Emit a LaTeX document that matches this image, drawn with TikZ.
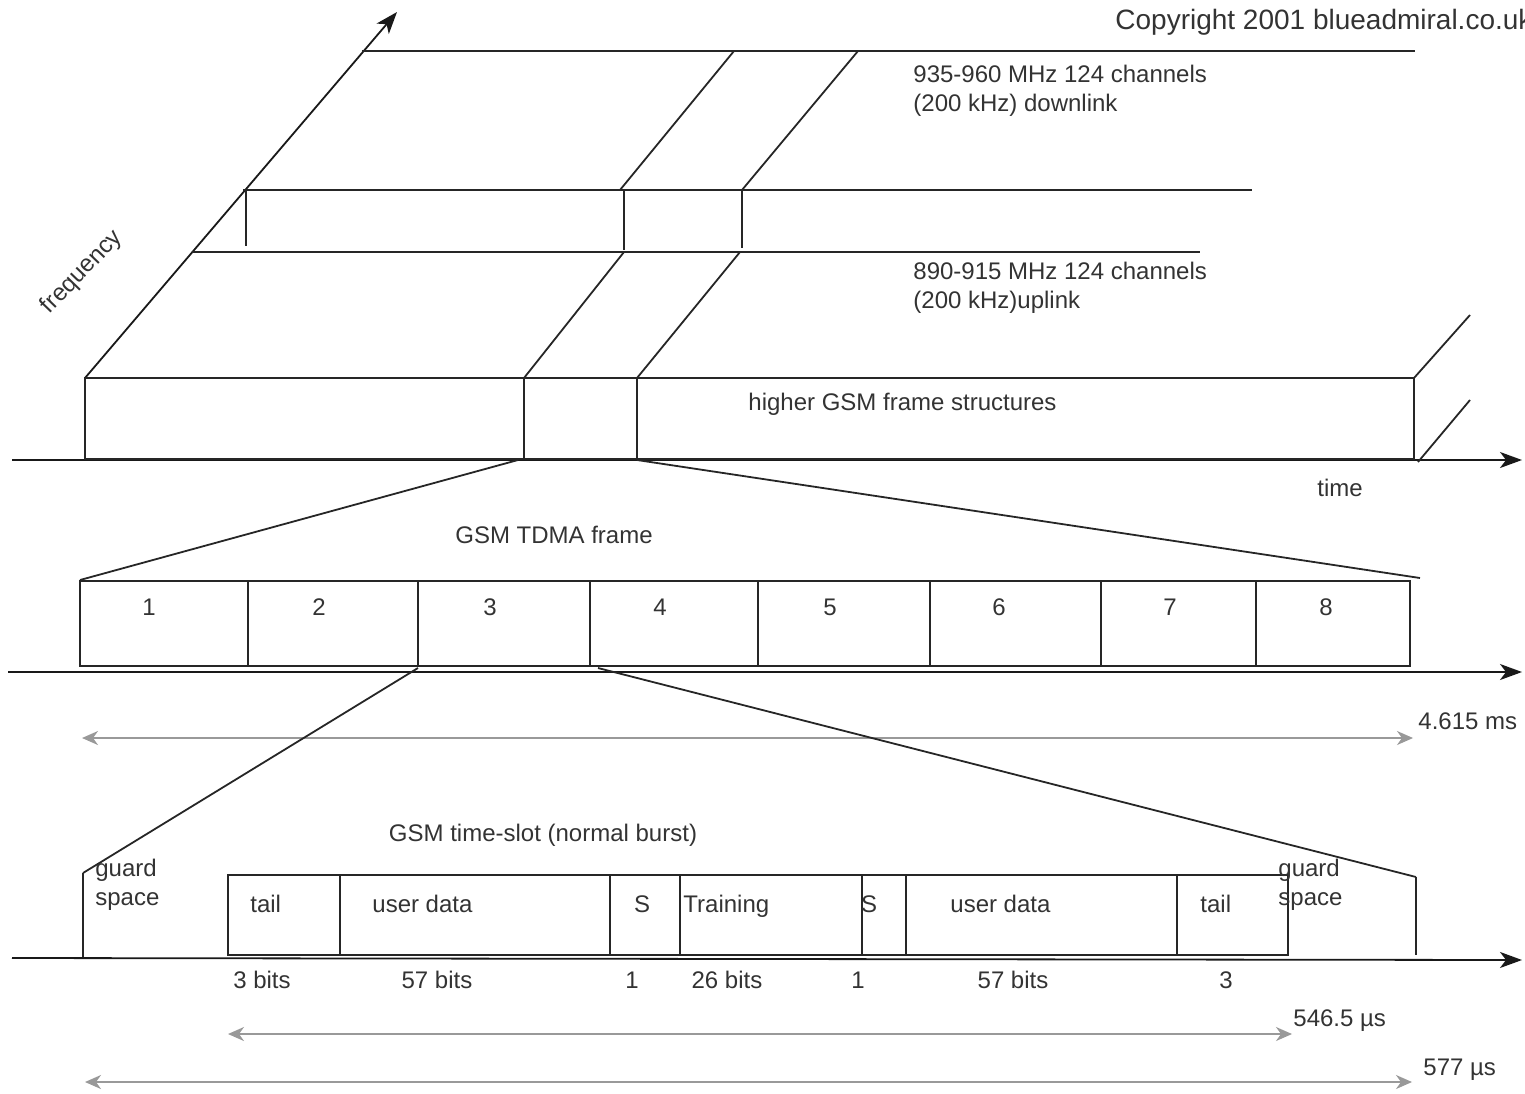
\documentclass[tikz,border=0pt]{standalone}
\usepackage{fontspec}
\setmainfont{Liberation Sans}
\usetikzlibrary{arrows.meta}
\begin{document}
\begin{tikzpicture}[x=0.5pt,y=-0.5pt,
  ln/.style={draw=black!85, line width=0.9pt},
  axisline/.style={draw=black!90, line width=0.9pt, -{Stealth[length=11pt,width=8pt,inset=3pt]}},
  dimline/.style={draw=black!40, line width=0.9pt, {Stealth[length=8pt,width=7pt,inset=2.5pt]}-{Stealth[length=8pt,width=7pt,inset=2.5pt]}},
  lbl/.style={font=\fontsize{12}{14}\selectfont, text=black!80, inner sep=0pt},
  lblw/.style={lbl, anchor=base west},
  lblc/.style={lbl, anchor=base}]
\useasboundingbox (0,0) rectangle (1525,1093);

% ---------- top: frequency / time ----------
\draw[axisline] (12,460) -- (1522,460);
\draw[axisline] (85,378) -- (397,12);
\draw[ln] (362,51) -- (1415,51);
\draw[ln] (243,190) -- (1252,190);
\draw[ln] (192,252) -- (1200,252);
\draw[ln] (246,190) -- (246,246);
\draw[ln] (624,190) -- (624,250);
\draw[ln] (742,190) -- (742,248);
\draw[ln] (620,190) -- (734,51);
\draw[ln] (742,190) -- (858,51);
\draw[ln] (624,252) -- (524,378);
\draw[ln] (740,252) -- (637,378);
\draw[ln] (85,460) -- (85,378) -- (1414,378) -- (1414,460);
\draw[ln] (85,459) -- (1414,459);
\draw[ln] (524,378) -- (524,460);
\draw[ln] (637,378) -- (637,460);
\draw[ln] (1414,378) -- (1470,315);
\draw[ln] (1418,462) -- (1470,400);

\node[lbl, anchor=base west, font=\fontsize{14}{16}\selectfont] (copy) at (1115,29) {Copyright 2001 blueadmiral.co.uk};
\node[lblw] (dl1) at (913,82) {935-960 MHz 124 channels};
\node[lblw] (dl2) at (913,111) {(200 kHz) downlink};
\node[lblw] (ul1) at (913,279) {890-915 MHz 124 channels};
\node[lblw] (ul2) at (913,308) {(200 kHz)uplink};
\node[lblw] (higher) at (748,410) {higher GSM frame structures};
\node[lblw] (time) at (1317,496) {time};
\node[lbl, rotate=46, font=\fontsize{12}{14}\selectfont] (freq) at (82,272) {frequency};

% ---------- middle: TDMA frame ----------
\draw[ln] (518,460) -- (80,580);
\draw[ln] (637,460) -- (1420,578);
\node[lblc] (tdma) at (554,543) {GSM TDMA frame};
\draw[ln] (80,581) rectangle (1410,666);
\foreach \xx in {248,418,590,758,930,1101,1256}
  \draw[ln] (\xx,581) -- (\xx,666);
\foreach \xx/\nn in {149/1,319/2,490/3,660/4,830/5,999/6,1170/7,1326/8}
  \node[lblc] (slot\nn) at (\xx,615) {\nn};
\draw[axisline] (8,672) -- (1522,672);
\draw[dimline] (82,738) -- (1413,738);
\node[lblw] (frame) at (1418,729) {4.615 ms};
\draw[ln] (418,668) -- (83,873);
\draw[ln] (598,668) -- (1416,877);

% ---------- bottom: time slot ----------
\node[lblc] (ts) at (543,841) {GSM time-slot (normal burst)};
\draw[ln] (83,873) -- (83,958);
\node[lblw] (g1a) at (95,876) {guard};
\node[lblw] (g1b) at (95,905) {space};
\draw[ln] (228,875) rectangle (1288,955);
\foreach \xx in {340,610,680,862,906,1177}
  \draw[ln] (\xx,875) -- (\xx,955);
\draw[ln] (1416,877) -- (1416,955);
\node[lblw] (g2a) at (1278,876) {guard};
\node[lblw] (g2b) at (1278,905) {space};
\node[lblw] (f1) at (250,912) {tail};
\node[lblw] (f2) at (372,912) {user data};
\node[lblc] (f3) at (642,912) {S};
\node[lblw] (f4) at (683,912) {Training};
\node[lblc] (f5) at (869,912) {S};
\node[lblw] (f6) at (950,912) {user data};
\node[lblw] (f7) at (1200,912) {tail};
\draw[axisline] (12,958) -- (1522,960);
\node[lblc] (b1) at (262,988) {3 bits};
\node[lblc] (b2) at (437,988) {57 bits};
\node[lblc] (b3) at (632,988) {1};
\node[lblc] (b4) at (727,988) {26 bits};
\node[lblc] (b5) at (858,988) {1};
\node[lblc] (b6) at (1013,988) {57 bits};
\node[lblc] (b7) at (1226,988) {3};
\draw[dimline] (228,1034) -- (1292,1034);
\node[lblw] (d1) at (1293,1026) {546.5 µs};
\draw[dimline] (85,1082) -- (1412,1082);
\node[lblw] (d2) at (1423,1075) {577 µs};
\end{tikzpicture}
\end{document}
